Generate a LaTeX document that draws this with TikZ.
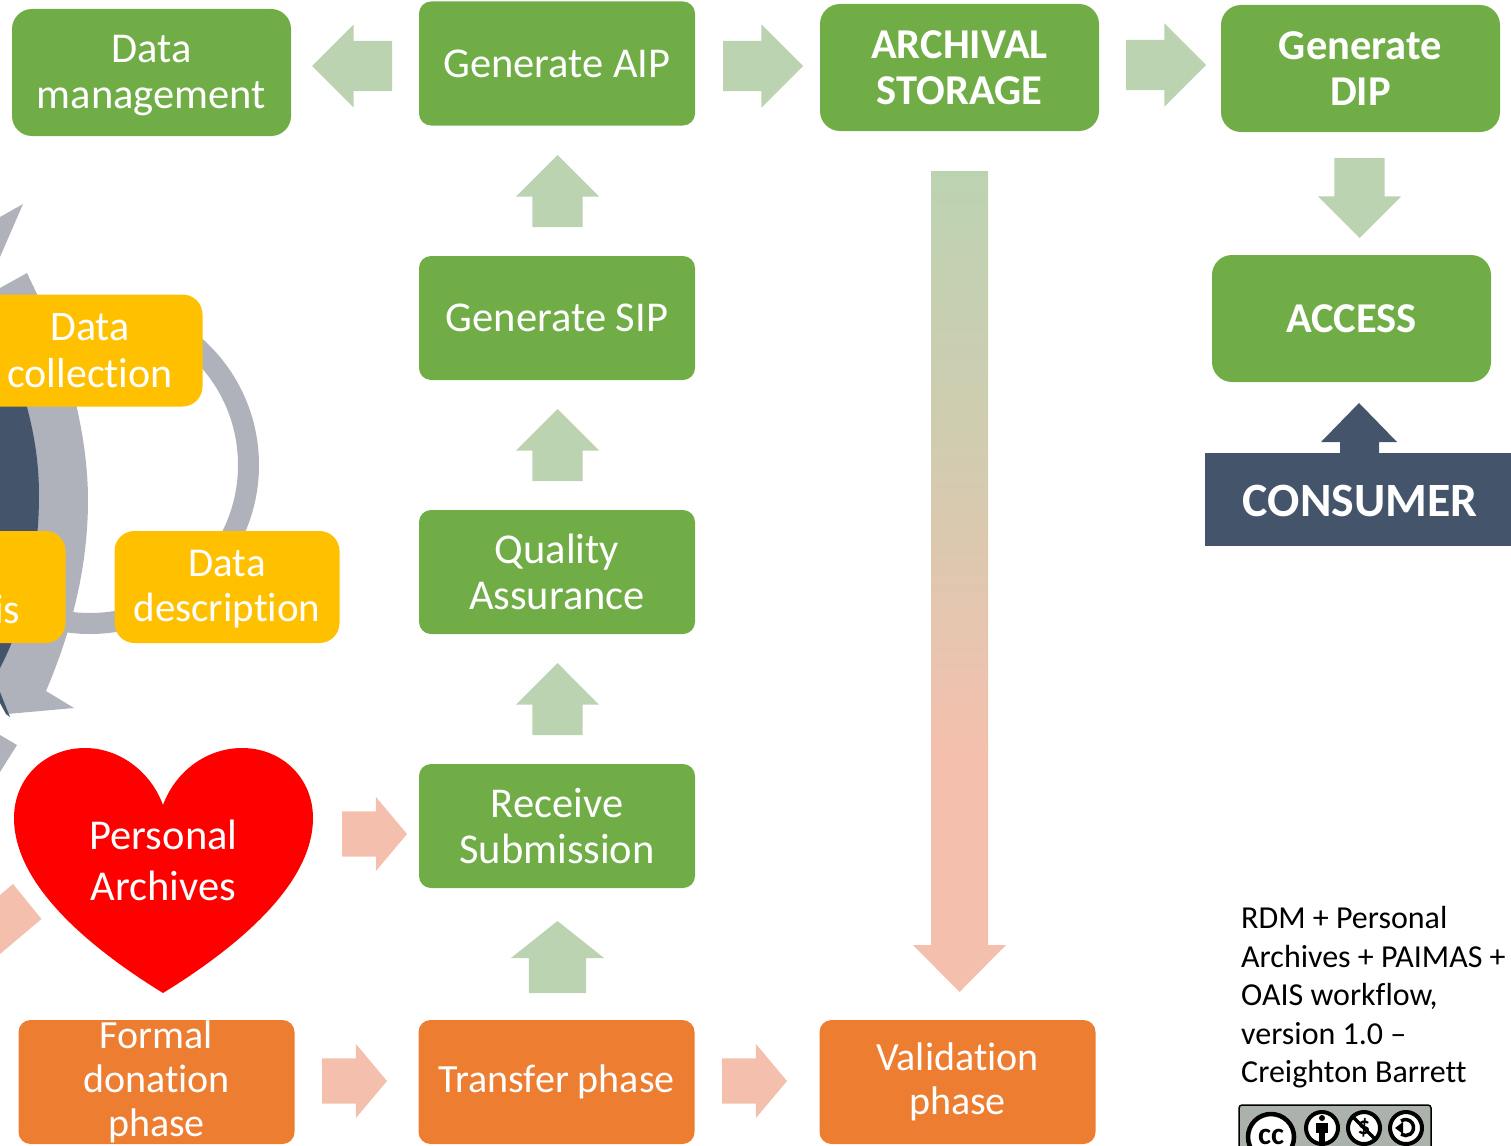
\documentclass[tikz,border=0pt]{standalone}
\usepackage{fontspec}
\setmainfont{Carlito}[Ligatures=NoCommon]
\usetikzlibrary{shapes.arrows}
\definecolor{flowgreen}{HTML}{70AD47}
\definecolor{flowlight}{HTML}{BCD3B2}
\definecolor{flowpink}{HTML}{F4C0AD}
\definecolor{floworange}{HTML}{ED7D31}
\definecolor{flowyellow}{HTML}{FFC000}
\definecolor{flowdark}{HTML}{44546A}
\definecolor{flowgray}{HTML}{AFB2BA}
\definecolor{badgegray}{HTML}{AAB2AB}

\begin{document}
\begin{tikzpicture}[x=1pt,y=-1pt]
  \useasboundingbox (0,0) rectangle (1511,1145);

  % Define a style for consistent boxes and block arrows
  \tikzset{
    stepbox/.style={rounded corners=12pt, minimum width=276pt, minimum height=124pt, inner sep=0pt,
      text=white, align=center, font=\fontsize{42.5}{46.5}\selectfont},
    greenbox/.style={stepbox, fill=flowgreen},
    orangebox/.style={stepbox, fill=floworange, font=\fontsize{40}{44}\selectfont},
    bigbox/.style={greenbox, rounded corners=20pt, minimum width=279pt, minimum height=127pt},
    boldbox/.style={bigbox, font=\bfseries\fontsize{42.5}{46}\selectfont},
    yellowbox/.style={stepbox, fill=flowyellow, rounded corners=20pt, minimum width=225pt, minimum height=112pt,
      font=\fontsize{42}{46.5}\selectfont},
    boxtext/.style={text=white, align=center, inner sep=0pt, font=\fontsize{42.5}{46}\selectfont},
    flowarrow/.style={single arrow, draw=none, inner xsep=0pt, outer sep=0pt, anchor=tip},
    greenarrow/.style={flowarrow, fill=flowlight, minimum height=80pt, minimum width=83pt,
      inner ysep=25pt, single arrow head extend=16.5pt},
    uparrow/.style={greenarrow, rotate=90, minimum height=72pt},
    pinkarrow/.style={flowarrow, fill=flowpink, minimum height=65pt, minimum width=74pt,
      inner ysep=22.5pt, single arrow head extend=14.5pt, single arrow tip angle=100},
    badgecircle/.style={draw=black, fill=white, line width=4pt, circle, inner sep=0pt, minimum size=32pt}
  }

  % Draw the cycle behind the yellow boxes
  \draw[flowgray, line width=21pt] (90,465) circle (158.5pt);
  \fill[flowgray] (23,204) -- (0,217) -- (0,257) -- cycle;
  \fill[flowgray] (0,735) -- (17,745) -- (0,772) -- cycle;
  \fill[flowgray] (0,288) -- (27,273) -- (37,294) .. controls (65,350) and (88,430) .. (88,500)
    .. controls (88,570) and (70,635) .. (46,691) -- (74,708) -- (7,714) -- (0,700) -- cycle;
  \fill[flowdark] (0,330) .. controls (25,390) and (39,440) .. (39,495)
    .. controls (39,570) and (20,630) .. (0,668) -- cycle;
  \fill[flowdark] (0,692) -- (10,717) -- (6,714) -- (0,703) -- cycle;

  % Draw the boxes
  \node[yellowbox] (coll) at (90,350.5) {Data\\collection};
  \node[yellowbox] (anl) at (-47,587) {};
  \node[text=white, font=\fontsize{42}{46}\selectfont, anchor=base east, inner sep=0pt] (anltext) at (20.5,623) {is};
  \node[yellowbox] (desc) at (227,587) {};
  \node[boxtext, font=\fontsize{41}{45}\selectfont] (desctext) at (227,589.5) {Data\\description};
  \node[bigbox] (dm) at (151.5,72.5) {};
  \node[boxtext] (dmtext) at (151.5,75.5) {Data\\management};
  \node[greenbox] (aip) at (557,63.5) {Generate AIP};
  \node[boldbox] (sto) at (959.5,67.5) {ARCHIVAL\\STORAGE};
  \node[boldbox] (dip) at (1360.5,68.5) {Generate\\DIP};
  \node[boldbox] (access) at (1351.5,318.5) {ACCESS};
  \node[greenbox] (sip) at (557,318) {Generate SIP};
  \node[greenbox] (qa) at (557,572) {Quality\\Assurance};
  \node[greenbox] (rec) at (557,826) {Receive\\Submission};
  \node[orangebox] (don) at (156.5,1082) {Formal\\donation\\phase};
  \node[orangebox] (trans) at (556.5,1082) {Transfer phase};
  \node[orangebox] (val) at (957.5,1082) {Validation\\phase};

  % Draw the consumer box
  \fill[flowdark] (1321,442) -- (1359,403) -- (1397,442) -- (1379,442) -- (1379,460) -- (1340,460) -- (1340,442) -- cycle;
  \node[fill=flowdark, minimum width=320pt, minimum height=93pt, inner sep=0pt] (consumer) at (1365,499.5) {};
  \node[text=white, inner sep=0pt, font=\bfseries\fontsize{47.8}{50}\selectfont] (consumertext) at (1360,501) {CONSUMER};

  % Draw the block arrows
  \node[greenarrow, rotate=180] (a1) at (312,66) {};
  \node[greenarrow] (a2) at (803,66) {};
  \node[greenarrow] (a3) at (1206,65) {};
  \node[greenarrow, rotate=-90] (a4) at (1359.5,238) {};
  \node[uparrow] (a5) at (557.5,155) {};
  \node[uparrow] (a6) at (557.5,409) {};
  \node[uparrow] (a7) at (557.5,663) {};
  \node[uparrow, minimum width=93pt, inner ysep=28.5pt, single arrow head extend=18pt, single arrow tip angle=103] (a8) at (557.5,921) {};
  \node[pinkarrow] (a9) at (407,834) {};
  \node[pinkarrow] (a10) at (387,1081) {};
  \node[pinkarrow] (a11) at (787,1081) {};
  \fill[flowpink] (0,895) -- (13,884) -- (41.5,919) -- (0,954) -- cycle;

  % Draw the long arrow between storage and validation
  \fill[top color=flowlight, bottom color=flowpink, middle color=flowlight!60!flowpink] (931,171) rectangle (988,750);
  \fill[flowpink] (931,749) -- (988,749) -- (988,945) -- (1006,945) -- (959.5,992) -- (913,945) -- (931,945) -- cycle;

  % Draw the heart
  \fill[red] (163,805) .. controls (150,770) and (118,748) .. (85,748) .. controls (45,748) and (14,778) .. (14,818)
    .. controls (14,885) and (90,948) .. (163,993) .. controls (236,948) and (313,885) .. (313,818)
    .. controls (313,778) and (282,748) .. (242,748) .. controls (208,748) and (176,770) .. (163,805) -- cycle;
  \node[text=white, align=center, inner sep=0pt, font=\fontsize{42.5}{51}\selectfont] (pa) at (163.5,860) {Personal\\Archives};

  % Draw the note and its badge
  \node[anchor=north west, align=left, inner sep=0pt, font=\fontsize{32}{38.5}\selectfont] (note) at (1241,906.5)
    {RDM + Personal\\Archives + PAIMAS +\\OAIS workflow,\\version 1.0 --\\Creighton Barrett};
  \draw[black, fill=badgegray, line width=1.5pt, rounded corners=3pt] (1239,1105) rectangle (1431,1170);
  \node[badgecircle, minimum size=46pt, line width=4.5pt, font=\bfseries\fontsize{31}{31}\selectfont] (cc) at (1271,1137) {cc};
  \node[badgecircle] (by) at (1322,1128) {};
  \fill (1322,1118) circle (3pt);
  \fill (1316,1123) rectangle (1328,1133);
  \fill (1319,1133) rectangle (1325,1142);
  \node[badgecircle, font=\bfseries\fontsize{25}{25}\selectfont] (nc) at (1364,1128) {\$};
  \draw[line width=3.5pt] (nc.north west) -- (nc.south east);
  \node[badgecircle] (sa) at (1406,1128) {};
  \draw[line width=3.5pt] (1401,1121) arc (125:-125:8pt);
  \fill (1395,1128) -- (1403,1122) -- (1403,1134) -- cycle;
\end{tikzpicture}
\end{document}
